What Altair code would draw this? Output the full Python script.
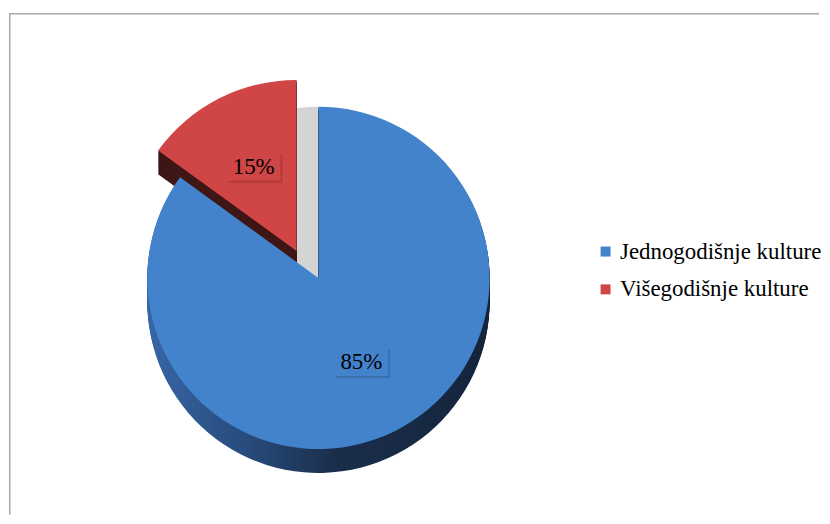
import altair as alt
import pandas as pd

# ---- data ----
categories = ["Jednogodišnje kulture", "Višegodišnje kulture"]
values = [85, 15]

# ---- style ----
top_colors = ["#4383CC", "#D04545"]
W, H = 814, 508
CX, CY = 311, 270
R = 172
DEPTH = 24
EXPLODE_X = -22
EXPLODE_Y = -27
LABEL_R = 95
FONT = "Liberation Serif"

df = pd.DataFrame({"category": categories, "value": values,
                   "order": list(range(len(categories)))})
side_df = df.merge(pd.DataFrame({"d": list(range(1, DEPTH + 1))}), how="cross")


def geom(chart, groupby=None, explode=True):
    kw = {}
    if groupby:
        kw["groupby"] = groupby
    ex = f"datum.category == '{categories[1]}' ? 1 : 0" if explode else "0"
    return (
        chart.transform_window(cum="sum(value)", frame=[None, 0],
                               sort=[alt.SortField("order")], **kw)
        .transform_joinaggregate(total="sum(value)", **kw)
        .transform_calculate(
            start="2*PI*(datum.cum - datum.value)/datum.total",
            end="2*PI*datum.cum/datum.total",
        )
        .transform_calculate(mid="(datum.start + datum.end)/2", ex=ex)
        .transform_calculate(
            cx=f"{CX} + datum.ex*({EXPLODE_X})",
            cy=f"{CY} + datum.ex*({EXPLODE_Y})",
            pct="format(datum.value/datum.total, '.0%')",
        )
        .transform_calculate(
            lx=f"datum.cx + {LABEL_R}*sin(datum.mid)",
            ly=f"datum.cy - {LABEL_R}*cos(datum.mid)",
        )
    )


color_enc = alt.Color(
    "category:N",
    scale=alt.Scale(domain=categories, range=top_colors),
    legend=alt.Legend(
        title=None, orient="none", legendX=588, legendY=232,
        symbolType="square", symbolSize=100, symbolStrokeWidth=0,
        labelFont=FONT, labelFontSize=23, labelColor="black",
        rowPadding=14, labelOffset=3, padding=0, labelLimit=400,
    ),
)

theta = alt.Theta("start:Q", scale=None)
theta2 = alt.Theta2("end:Q")
xc = alt.X("cx:Q", scale=None)
yc = alt.Y("cy:Q", scale=None)

# frame
frame_src = pd.DataFrame({"k": [0]})
frame_left = alt.Chart(frame_src).mark_rule(color="#A8A8A8", strokeWidth=1.5).encode(
    x=alt.value(0.75), y=alt.value(4.5), y2=alt.value(H))
frame_top = alt.Chart(frame_src).mark_rule(color="#A8A8A8", strokeWidth=1.5).encode(
    x=alt.value(0), x2=alt.value(W), y=alt.value(4.5))

# gray gap behind the exploded slice
gap = geom(alt.Chart(df), explode=False).transform_filter(
    f"datum.category == '{categories[1]}'"
).mark_arc(radius=R, color="#D4D4D4").encode(theta=theta, theta2=theta2, x=xc, y=yc)

# sides
blue_grad = alt.Gradient(
    gradient="linear", x1=0, x2=1, y1=0, y2=0,
    stops=[
        alt.GradientStop(offset=0, color="#3766A6"),
        alt.GradientStop(offset=0.3, color="#274A7A"),
        alt.GradientStop(offset=0.55, color="#1A2E4C"),
        alt.GradientStop(offset=1, color="#15243B"),
    ],
)
side_base = geom(alt.Chart(side_df), groupby=["d"]).transform_calculate(
    cyd="datum.cy + datum.d")
side_enc = dict(theta=theta, theta2=theta2, x=xc, y=alt.Y("cyd:Q", scale=None))
blue_side = side_base.transform_filter(
    f"datum.category == '{categories[0]}'"
).mark_arc(radius=R, color=blue_grad).encode(**side_enc)
red_side = side_base.transform_filter(
    f"datum.category == '{categories[1]}'"
).mark_arc(radius=R, color="#3E1616").encode(**side_enc)

# tops
top_base = geom(alt.Chart(df))
red_top = top_base.transform_filter(
    f"datum.category == '{categories[1]}'"
).mark_arc(radius=R).encode(theta=theta, theta2=theta2, x=xc, y=yc, color=color_enc)
blue_top = top_base.transform_filter(
    f"datum.category == '{categories[0]}'"
).mark_arc(radius=R).encode(theta=theta, theta2=theta2, x=xc, y=yc, color=color_enc)

# labels
lab = top_base.transform_calculate(
    bx1="datum.lx - 27", bx2="datum.lx + 27",
    by1="datum.ly - 14", by2="datum.ly + 14",
    sx1="datum.lx - 25", sx2="datum.lx + 29",
    sy1="datum.ly - 12", sy2="datum.ly + 16",
)
box_shadow = lab.mark_rect(color="black", opacity=0.15).encode(
    x=alt.X("sx1:Q", scale=None), x2="sx2:Q",
    y=alt.Y("sy1:Q", scale=None), y2="sy2:Q")
box = lab.mark_rect().encode(
    x=alt.X("bx1:Q", scale=None), x2="bx2:Q",
    y=alt.Y("by1:Q", scale=None), y2="by2:Q", color=color_enc)
text = lab.mark_text(font=FONT, fontSize=23, color="black",
                     align="center", baseline="middle").encode(
    x=alt.X("lx:Q", scale=None), y=alt.Y("ly:Q", scale=None), text="pct:N")

chart = alt.layer(
    frame_left, frame_top, gap, blue_side, red_side, red_top, blue_top,
    box_shadow, box, text,
).properties(width=W, height=H, padding=0, background="white").configure_view(stroke=None)

chart.save("out.html", embed_options={"renderer": "svg", "actions": False})
